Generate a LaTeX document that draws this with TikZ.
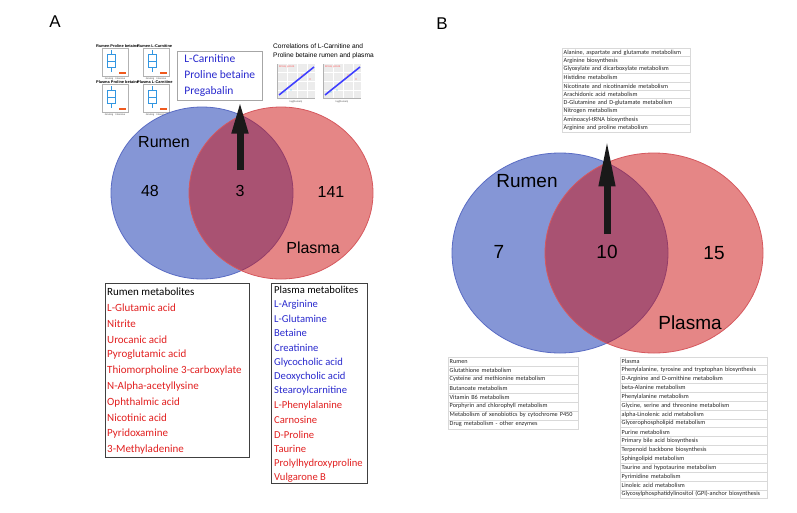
\documentclass[tikz,border=0pt]{standalone}
\usepackage{fontspec}
\setmainfont{Carlito}
\newfontfamily\arial{Liberation Sans}
\usetikzlibrary{arrows.meta, positioning, shapes.geometric}

\definecolor{vblue}{RGB}{133,150,214}
\definecolor{vblueline}{RGB}{90,108,196}
\definecolor{vred}{RGB}{205,15,15}
\definecolor{vredline}{RGB}{214,88,94}
\definecolor{listred}{RGB}{226,32,32}
\definecolor{listblue}{RGB}{42,42,206}
\definecolor{plotblue}{RGB}{50,150,225}
\definecolor{plotorange}{RGB}{240,90,30}
\definecolor{arrowblack}{RGB}{25,25,25}

\tikzset{
  rumenset/.style={ellipse, draw=vblueline, fill=vblue, line width=0.8pt, inner sep=0pt},
  plasmaset/.style={ellipse, draw=vredline, fill=vred, fill opacity=0.5, line width=0.8pt, inner sep=0pt},
  vennlabel/.style={font=\arial\fontsize{#1}{#1}\selectfont, text=black},
  panel/.style={font=\arial\fontsize{17}{17}\selectfont},
  bigarrow/.style={arrowblack, line width=7pt, -{Triangle[length=#1, width=15pt]}},
  listbox/.style={draw=black!75, line width=0.6pt, anchor=north west, inner sep=0pt},
  listitem/.style={anchor=west, inner sep=0pt, font=\fontsize{11}{11}\selectfont},
  pathrow/.style={draw=gray!30, line width=0.4pt, anchor=north west, inner xsep=1.5pt, inner ysep=0pt,
    align=left, font=\fontsize{6.2}{6.2}\selectfont, text=black!85},
  thumbtitle/.style={inner sep=0pt, font=\arial\bfseries\fontsize{3.9}{3.9}\selectfont},
  thumbaxis/.style={inner sep=0pt, font=\arial\fontsize{2.4}{2.4}\selectfont, text=black!70},
  thumbframe/.style={draw=gray!60, line width=0.4pt, fill=white}
}

\begin{document}
\begin{tikzpicture}[x=1pt, y=-1pt]
\useasboundingbox[fill=white] (0,0) rectangle (797,512);

% ---------- panel A ----------
\node[panel] (labA) at (55,22) {A};

% small plots
\foreach \px/\py/\ttl in {96/46/Rumen Proline betaine, 137/46/Rumen L-Carnitine,
                          96/82/Plasma Proline betaine, 137/82/Plasma L-Carnitine}{
  \draw[thumbframe] (\px+6,\py+2) rectangle (\px+32,\py+30);
  \draw[plotblue, line width=0.8pt] (\px+11,\py+8) rectangle (\px+19,\py+21)
    (\px+11,\py+15) -- (\px+19,\py+15) (\px+15,\py+4) -- (\px+15,\py+8)
    (\px+15,\py+21) -- (\px+15,\py+26);
  \draw[plotorange, line width=1.5pt] (\px+23,\py+27) -- (\px+30,\py+27);
  \node[thumbtitle, anchor=west] at (\px,\py) {\ttl};
  \node[thumbaxis] at (\px+19,\py+33) {Grazing\quad Intensive};
}

\node[font=\arial\fontsize{6.6}{8.4}\selectfont, align=left, anchor=north west, inner sep=0pt]
  (corTitle) at (273,44) {Correlations of L-Carnitine and\\Proline betaine rumen and plasma};
\foreach \px in {277,323}{
  \fill[gray!15] (\px,64) rectangle (\px+38,98);
  \draw[white, line width=0.3pt] (\px,72) -- (\px+38,72) (\px,81) -- (\px+38,81) (\px,90) -- (\px+38,90)
    (\px+10,64) -- (\px+10,98) (\px+20,64) -- (\px+20,98) (\px+30,64) -- (\px+30,98);
  \draw[gray!60, line width=0.3pt] (\px,64) -- (\px,98) -- (\px+38,98);
  \draw[blue!75, line width=1.6pt] (\px+2,95) -- (\px+37,67);
  \node[thumbaxis, text=red!80, anchor=west] at (\px+2,67) {R=0.8, p=0.01};
  \fill[red!60] (\px+25,75) circle (0.6) (\px+33,79) circle (0.6);
  \fill[cyan!70] (\px+8,92) circle (0.6) (\px+14,90) circle (0.6);
  \node[thumbaxis] at (\px+19,102) {log(Rumen)};
}

\node[rumenset, minimum width=182pt, minimum height=172pt] (rumA) at (202,193) {};
\node[plasmaset, minimum width=184pt, minimum height=172pt] (plaA) at (281,193) {};

\node[vennlabel=16] (rumNameA) at (164,142) {Rumen};
\node[vennlabel=16] (plaNameA) at (313,248) {Plasma};
\node[vennlabel=16] (onlyRumA) at (150,191) {48};
\node[vennlabel=16] (bothA) at (240,191) {3};
\node[vennlabel=16] (onlyPlaA) at (331,192) {141};

\node[draw=gray!70, line width=0.6pt, anchor=north west, minimum width=85pt, minimum height=49pt,
  inner xsep=5pt, align=left, text=listblue, font=\fontsize{11.5}{16}\selectfont]
  (hitsA) at (177,51) {L-Carnitine\\Proline betaine\\Pregabalin};
\coordinate (arrA) at (240,170);
\draw[bigarrow=33pt] (arrA) -- (arrA |- hitsA.south);

\node[listbox, minimum width=144pt, minimum height=174pt] (rumList) at (105,283) {};
\node[listitem] (rumHead) at (107,292) {Rumen metabolites};
\foreach \met [count=\i] in {L-Glutamic acid, Nitrite, Urocanic acid, Pyroglutamic acid,
    Thiomorpholine 3-carboxylate, N-Alpha-acetyllysine, Ophthalmic acid, Nicotinic acid,
    Pyridoxamine, 3-Methyladenine}
  \node[listitem, text=listred] (rum\i) at (107,292+15.75*\i) {\met};

\node[listbox, minimum width=96pt, minimum height=200pt] (plaList) at (271,283) {};
\node[listitem, font=\fontsize{10.6}{10.6}\selectfont] (plaHead) at (274,290) {Plasma metabolites};
\foreach \met/\col [count=\i] in {L-Arginine/listblue, L-Glutamine/listblue, Betaine/listblue,
    Creatinine/listblue, Glycocholic acid/listblue, Deoxycholic acid/listblue,
    Stearoylcarnitine/listblue, L-Phenylalanine/listred, Carnosine/listred, D-Proline/listred,
    Taurine/listred, Prolylhydroxyproline/listred, Vulgarone B/listred}
  \node[listitem, font=\fontsize{10.6}{10.6}\selectfont, text=\col] (pla\i) at (274,290+14.45*\i) {\met};

% ---------- panel B ----------
\node[panel] (labB) at (442,24) {B};

\node[rumenset, minimum width=216pt, minimum height=200pt] (rumB) at (560,253) {};
\node[plasmaset, minimum width=218pt, minimum height=200pt] (plaB) at (654,253) {};

\node[vennlabel=19] (rumNameB) at (527,181) {Rumen};
\node[vennlabel=19] (plaNameB) at (690,323) {Plasma};
\node[vennlabel=19] (onlyRumB) at (499,252) {7};
\node[vennlabel=19] (bothB) at (607,252) {10};
\node[vennlabel=19] (onlyPlaB) at (714,253) {15};

\foreach \pw [count=\i from 0] in {{Alanine, aspartate and glutamate metabolism}, Arginine biosynthesis,
    Glyoxylate and dicarboxylate metabolism, Histidine metabolism,
    Nicotinate and nicotinamide metabolism, Arachidonic acid metabolism,
    D-Glutamine and D-glutamate metabolism, Nitrogen metabolism,
    Aminoacyl-tRNA biosynthesis, Arginine and proline metabolism}
  \node[pathrow, text width=125pt, minimum height=8.4pt] (top\i) at (562,48+8.4*\i) {\pw};

\coordinate (arrB) at (607,234);
\draw[bigarrow=48pt, shorten >=6pt] (arrB) -- (arrB |- top9.south);

\foreach \pw [count=\i from 0] in {Rumen, Glutathione metabolism, Cysteine and methionine metabolism,
    Butanoate metabolism, Vitamin B6 metabolism, Porphyrin and chlorophyll metabolism,
    Metabolism of xenobiotics by cytochrome P450, Drug metabolism - other enzymes}
  \node[pathrow, text width=127pt, minimum height=9pt] (rumPw\i) at (448,356.5+9*\i) {\pw};

\foreach \pw [count=\i from 0] in {Plasma, {Phenylalanine, tyrosine and tryptophan biosynthesis},
    D-Arginine and D-ornithine metabolism, beta-Alanine metabolism, Phenylalanine metabolism,
    {Glycine, serine and threonine metabolism}, alpha-Linolenic acid metabolism,
    Glycerophospholipid metabolism, Purine metabolism, Primary bile acid biosynthesis,
    Terpenoid backbone biosynthesis, Sphingolipid metabolism,
    Taurine and hypotaurine metabolism, Pyrimidine metabolism, Linoleic acid metabolism,
    Glycosylphosphatidylinositol (GPI)-anchor biosynthesis}
  \node[pathrow, text width=144pt, minimum height=8.87pt] (plaPw\i) at (620,356.5+8.87*\i) {\pw};

\end{tikzpicture}
\end{document}
